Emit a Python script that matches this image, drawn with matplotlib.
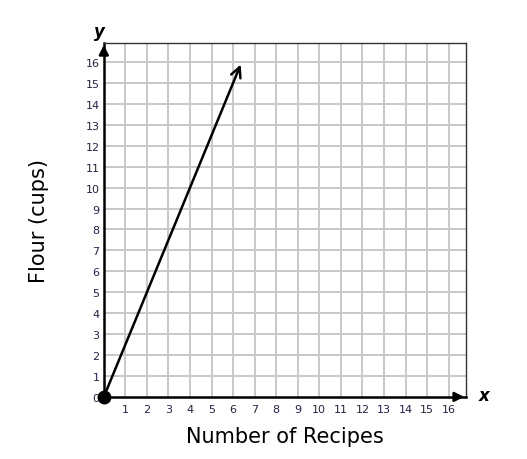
import matplotlib.pyplot as plt

# data
x_ticks = list(range(1, 17))
y_ticks = list(range(0, 17))
line_x = [0, 6.4]
line_y = [0, 16.0]
x_max = 16.8
y_max = 16.9

fig = plt.figure(figsize=(5.27, 4.6), dpi=100)
ax = fig.add_axes([0.197, 0.135, 0.687, 0.769])
ax.set_xlim(0, x_max)
ax.set_ylim(0, y_max)

# grid
for v in range(1, 17):
    ax.axvline(v, color='#c8c8c8', lw=1.4, zorder=0)
for v in range(1, 17):
    ax.axhline(v, color='#c8c8c8', lw=1.4, zorder=0)

for s in ['top', 'right']:
    ax.spines[s].set_color('#333333')
    ax.spines[s].set_linewidth(1.0)
for s in ['left', 'bottom']:
    ax.spines[s].set_linewidth(1.8)
    ax.spines[s].set_color('black')

tick_col = '#22224a'
ax.set_xticks(x_ticks)
ax.set_xticklabels([str(t) for t in x_ticks], fontsize=8, color=tick_col, family='DejaVu Sans')
ax.set_yticks(y_ticks)
ax.set_yticklabels([str(t) for t in y_ticks], fontsize=8, color=tick_col, family='DejaVu Sans')
ax.tick_params(length=0, pad=3)
ax.tick_params(axis='x', pad=5)

# axis arrows
ax.annotate('', xy=(x_max + 0.05, 0), xytext=(x_max - 0.6, 0),
            arrowprops=dict(arrowstyle='-|>', color='black', lw=1.8, mutation_scale=14),
            annotation_clip=False)
ax.annotate('', xy=(0, y_max + 0.05), xytext=(0, y_max - 0.6),
            arrowprops=dict(arrowstyle='-|>', color='black', lw=1.8, mutation_scale=14),
            annotation_clip=False)
ax.text(x_max + 0.6, 0.1, 'x', fontsize=12, fontweight='bold', style='italic',
        ha='left', va='center')
ax.text(-0.2, y_max + 0.6, 'y', fontsize=12, fontweight='bold', style='italic',
        ha='center', va='center')

# the line
ax.annotate('', xy=(line_x[1], line_y[1]), xytext=(line_x[0], line_y[0]),
            arrowprops=dict(arrowstyle='->', color='black', lw=1.8, mutation_scale=18),
            annotation_clip=False)
ax.plot([line_x[0]], [line_y[0]], 'o', color='black', markersize=9, clip_on=False, zorder=5)

ax.set_xlabel('Number of Recipes', fontsize=15, labelpad=9)
ax.set_ylabel('Flour (cups)', fontsize=15, labelpad=26)

fig.savefig('out.png', dpi=100)
